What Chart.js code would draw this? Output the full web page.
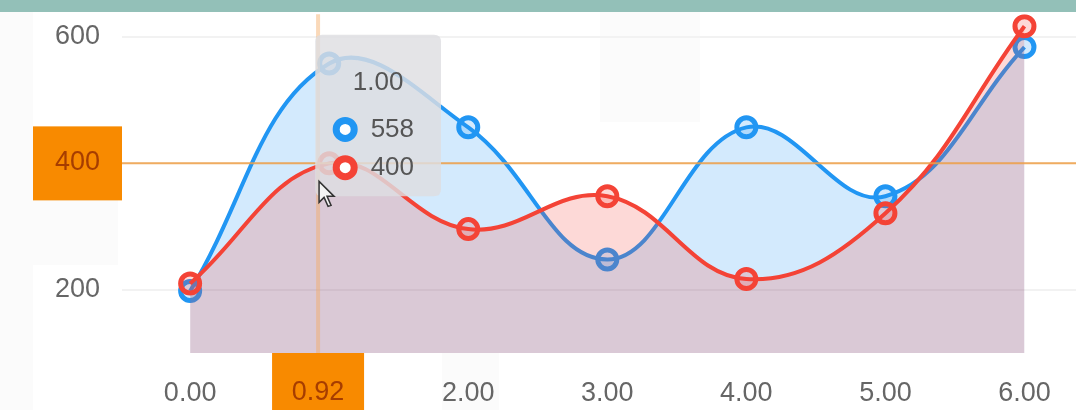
<!DOCTYPE html>
<html>
<head>
<meta charset="utf-8">
<script src="https://cdn.jsdelivr.net/npm/chart.js@4.4.1/dist/chart.umd.min.js"></script>
<style>
    html, body { margin: 0; padding: 0; background: #fff; overflow: hidden; width: 1076px; height: 410px; }
    .ghost { position: absolute; background: #fbfbfb; }
    #topBar { position: absolute; left: 0; top: 0; width: 1076px; height: 12px; background: #93c0b8; z-index: 5; }
    #wrap { position: absolute; left: 0; top: -24px; width: 1094px; height: 434px; }
    #myChart { filter: blur(0.5px); }
</style>
</head>
<body>
<div class="ghost" style="left:0;top:0;width:33px;height:410px"></div>
<div class="ghost" style="left:33px;top:200px;width:85px;height:65px"></div>
<div class="ghost" style="left:600px;top:12px;width:100px;height:110px"></div>
<div class="ghost" style="left:442px;top:353px;width:57px;height:57px"></div>
<div id="topBar"></div>
<div id="wrap"><canvas id="myChart"></canvas></div>
<script>
// chart data
const xValues = [0, 1, 2, 3, 4, 5, 6];
const blueValues = [198, 558, 457, 248, 457, 348, 584];
const redValues = [210, 400, 296, 348, 217, 321, 617];
const xTicks = [0, 1, 2, 3, 4, 5, 6];
const yTicks = [200, 400, 600];
const crosshairX = 0.92;
const crosshairY = 400;
const activeIndex = 1;

const blue = '#2196f3';
const red = '#f44336';
const tickSize = 27;
const tipSize = 26;

// crosshair lines + orange axis labels
const crosshair = {
    id: 'crosshair',
    afterDatasetsDraw(chart) {
        const { ctx, chartArea, scales } = chart;
        const px = scales.x.getPixelForValue(crosshairX);
        const py = scales.y.getPixelForValue(crosshairY);
        ctx.save();
        ctx.strokeStyle = 'rgba(245, 170, 100, 0.45)';
        ctx.lineWidth = 4;
        ctx.beginPath();
        ctx.moveTo(px, chartArea.top);
        ctx.lineTo(px, chartArea.bottom);
        ctx.stroke();

        ctx.strokeStyle = 'rgba(240, 160, 70, 0.85)';
        ctx.lineWidth = 2;
        ctx.beginPath();
        ctx.moveTo(chartArea.left, py);
        ctx.lineTo(chartArea.right, py);
        ctx.stroke();

        // label boxes
        ctx.fillStyle = '#f88a00';
        ctx.fillRect(33, py - 37, chartArea.left - 33, 74);
        ctx.fillRect(px - 46, chartArea.bottom, 92, chart.height - chartArea.bottom);

        ctx.fillStyle = '#a63d00';
        ctx.font = tickSize + 'px "Liberation Sans", Arial, sans-serif';
        ctx.textBaseline = 'middle';
        ctx.textAlign = 'right';
        ctx.fillText(String(crosshairY), chartArea.left - 22, py - 1);
        ctx.textAlign = 'center';
        ctx.fillText(crosshairX.toFixed(2), px, chartArea.bottom + 40);
        ctx.restore();
    },
    afterDraw(chart) {
        // mouse pointer
        const { ctx, scales } = chart;
        const tx = scales.x.getPixelForValue(crosshairX) + 1;
        const ty = scales.y.getPixelForValue(crosshairY) + 18;
        const pts = [[0, 0], [0, 21], [5, 16], [9, 25], [12, 24], [8, 15], [15, 15]];
        ctx.save();
        ctx.beginPath();
        pts.forEach(([a, b], i) => i ? ctx.lineTo(tx + a, ty + b) : ctx.moveTo(tx + a, ty + b));
        ctx.closePath();
        ctx.fillStyle = '#f4f4f4';
        ctx.fill();
        ctx.strokeStyle = '#333';
        ctx.lineWidth = 1.5;
        ctx.stroke();
        ctx.restore();
    }
};

Chart.Tooltip.positioners.besidePoint = function (elements) {
    const pos = Chart.Tooltip.positioners.average.call(this, elements);
    if (!pos) return false;
    return { x: pos.x - 14, y: pos.y + 2, xAlign: 'left', yAlign: 'center' };
};

const ctx = document.getElementById('myChart').getContext('2d');
const myChart = new Chart(ctx, {
    type: 'line',
    data: {
        labels: xValues,
        datasets: [{
            label: 'red',
            data: xValues.map((x, i) => ({ x: x, y: redValues[i] })),
            borderColor: red,
            backgroundColor: 'rgba(244, 67, 54, 0.2)',
            fill: 'origin'
        }, {
            label: 'blue',
            data: xValues.map((x, i) => ({ x: x, y: blueValues[i] })),
            borderColor: blue,
            backgroundColor: 'rgba(33, 150, 243, 0.2)',
            fill: 'origin'
        }]
    },
    options: {
        responsive: true,
        maintainAspectRatio: false,
        animation: false,
        events: [],
        layout: { autoPadding: false, padding: { top: 12, left: 0, right: 0, bottom: 0 } },
        elements: {
            line: { tension: 0.4, borderWidth: 4 },
            point: {
                radius: 9.5, hoverRadius: 9.5, borderWidth: 5, hoverBorderWidth: 5,
                backgroundColor: '#fff', hoverBackgroundColor: '#fff'
            }
        },
        scales: {
            x: {
                type: 'linear',
                min: -0.49,
                max: 6.5,
                afterBuildTicks: axis => { axis.ticks = xTicks.map(v => ({ value: v })); },
                afterFit: axis => { axis.height = 57; },
                grid: { display: false, drawTicks: false },
                border: { display: false },
                ticks: {
                    padding: 24,
                    color: '#666',
                    font: { size: tickSize },
                    maxRotation: 0,
                    autoSkip: false,
                    callback: v => Number(v).toFixed(2)
                }
            },
            y: {
                min: 100,
                max: 636,
                afterBuildTicks: axis => { axis.ticks = yTicks.map(v => ({ value: v })); },
                afterFit: axis => { axis.width = 122; },
                grid: { color: '#f2f2f2', lineWidth: 2, drawTicks: false },
                border: { display: false },
                ticks: { padding: 22, color: '#666', font: { size: tickSize } }
            }
        },
        plugins: {
            legend: { display: false },
            tooltip: {
                position: 'besidePoint',
                mode: 'index',
                intersect: false,
                xAlign: 'left',
                yAlign: 'center',
                caretSize: 0,
                caretPadding: 0,
                cornerRadius: 7,
                backgroundColor: 'rgba(222, 222, 226, 0.82)',
                titleColor: '#555',
                bodyColor: '#555',
                titleFont: { size: tipSize, weight: 'normal' },
                bodyFont: { size: tipSize },
                titleAlign: 'center',
                titleMarginBottom: 15,
                bodySpacing: 7,
                padding: { top: 33, bottom: 13, left: 21, right: 27 },
                boxWidth: 18,
                boxHeight: 18,
                multiKeyBackground: '#fff',
                itemSort: (a, b) => b.datasetIndex - a.datasetIndex,
                callbacks: {
                    title: items => items[0].parsed.x.toFixed(2),
                    label: item => '  ' + item.parsed.y,
                    labelColor: item => ({
                        borderColor: item.dataset.borderColor,
                        backgroundColor: 'rgba(0, 0, 0, 0)',
                        borderWidth: 7,
                        borderRadius: 9
                    })
                }
            }
        }
    },
    plugins: [crosshair]
});

const active = [{ datasetIndex: 0, index: activeIndex }, { datasetIndex: 1, index: activeIndex }];
myChart.tooltip.setActiveElements(active, { x: 0, y: 0 });
myChart.update();
</script>
</body>
</html>
